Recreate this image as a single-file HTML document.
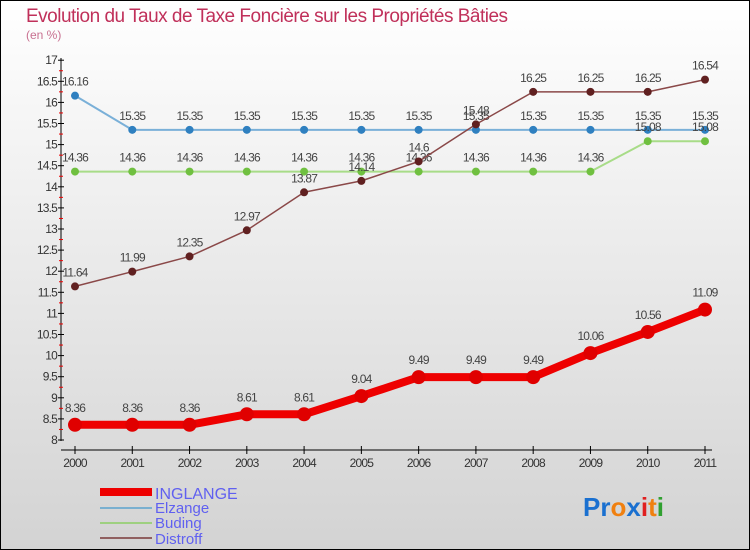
<!DOCTYPE html>
<html><head><meta charset="utf-8"><style>
body{margin:0;width:750px;height:550px;overflow:hidden}
svg{display:block;font-family:"Liberation Sans",sans-serif}
</style></head><body>
<svg id="c" width="750" height="550" xmlns="http://www.w3.org/2000/svg">
<defs><linearGradient id="bg" x1="0" y1="0" x2="0" y2="1"><stop offset="0" stop-color="#ffffff"/><stop offset="1" stop-color="#d3d3d3"/></linearGradient></defs>
<rect x="0.5" y="0.5" width="749" height="549" fill="url(#bg)" stroke="#000"/>
<text x="26" y="22" font-size="19" fill="#c0305a" letter-spacing="-0.5">Evolution du Taux de Taxe Foncière sur les Propriétés Bâties</text>
<text x="26" y="39" font-size="12" fill="#c87090">(en %)</text>
<g id="axes"></g><g id="series"></g>
<g>
<rect x="100" y="488" width="52" height="8" fill="#e00"/>
<text x="155" y="499" font-size="16" fill="#6060f0">INGLANGE</text>
<rect x="100" y="507" width="52" height="2" fill="#7ab0d0"/>
<text x="155" y="513" font-size="15" fill="#6060f0">Elzange</text>
<rect x="100" y="522" width="52" height="2" fill="#9ed080"/>
<text x="155" y="528" font-size="15" fill="#6060f0">Buding</text>
<rect x="100" y="537" width="52" height="2" fill="#906060"/>
<text x="155" y="544" font-size="15" fill="#6060f0">Distroff</text>
</g>
<text x="583" y="516" font-size="26" font-weight="bold"><tspan fill="#1a70d0">Pr</tspan><tspan fill="#f08010">o</tspan><tspan fill="#1a70d0">x</tspan><tspan fill="#e02020">i</tspan><tspan fill="#f08010">t</tspan><tspan fill="#30a030">i</tspan></text>
</svg>
<script>
const years=[2000,2001,2002,2003,2004,2005,2006,2007,2008,2009,2010,2011];
const inglange=[8.36,8.36,8.36,8.61,8.61,9.04,9.49,9.49,9.49,10.06,10.56,11.09];
const elzange=[16.16,15.35,15.35,15.35,15.35,15.35,15.35,15.35,15.35,15.35,15.35,15.35];
const buding=[14.36,14.36,14.36,14.36,14.36,14.36,14.36,14.36,14.36,14.36,15.08,15.08];
const distroff=[11.64,11.99,12.35,12.97,13.87,14.14,14.6,15.48,16.25,16.25,16.25,16.54];
const yTicks=[8,8.5,9,9.5,10,10.5,11,11.5,12,12.5,13,13.5,14,14.5,15,15.5,16,16.5,17];
const NS="http://www.w3.org/2000/svg";
const x=i=>75+i*(630/11);
const y=v=>440-(v-8)*42.2;
function mk(t,a,p){const e=document.createElementNS(NS,t);for(const k in a)e.setAttribute(k,a[k]);p.appendChild(e);return e;}
const ax=document.getElementById('axes');
let l=mk('line',{x1:61,y1:58,x2:61,y2:441,stroke:'#000'},ax);


l=mk('line',{x1:61,y1:450,x2:712,y2:450,stroke:'#000'},ax);


yTicks.forEach((v,i)=>{
 mk('line',{x1:58,y1:y(v),x2:64,y2:y(v),stroke:'#000'},ax);
 if(i<yTicks.length-1)mk('line',{x1:59,y1:y(v+0.25),x2:63,y2:y(v+0.25),stroke:'#e00'},ax);
 const t=mk('text',{x:57,y:y(v)+4,'font-size':12,fill:'#333','text-anchor':'end','letter-spacing':'-0.8'},ax);
 t.textContent=String(v);
 
 
});
years.forEach((yr,i)=>{
 mk('line',{x1:x(i),y1:446,x2:x(i),y2:454,stroke:'#000'},ax);
 const t=mk('text',{x:x(i),y:467,'font-size':12,fill:'#333','text-anchor':'middle','letter-spacing':'-0.8'},ax);
 t.textContent=String(yr);
 
 
});
const sg=document.getElementById('series');
function series(name,data,color,mcolor,w,r,fs){
 const g=mk('g',{},sg);
 
 
 const pl=mk('polyline',{points:data.map((v,i)=>x(i)+','+y(v)).join(' '),fill:'none',stroke:color,'stroke-width':w,'stroke-linejoin':'round'},g);
 
 
 data.forEach((v,i)=>{
  const c=mk('circle',{cx:x(i),cy:y(v),r:r,fill:mcolor},g);
  
  
  const t=mk('text',{x:x(i),y:y(v)-r-6,'font-size':fs,fill:'#444','text-anchor':'middle','letter-spacing':'-0.8'},g);
  t.textContent=String(v);
  
  
 });
}
series('elzange',elzange,'#7ab0d8','#2f80c0',2,4,12);
series('buding',buding,'#a8dc88','#70c040',2,4,12);
series('distroff',distroff,'#8a4848','#602020',1.5,4,12);
series('inglange',inglange,'#ee0000','#e00000',8,7,12);
</script>
</body></html>
